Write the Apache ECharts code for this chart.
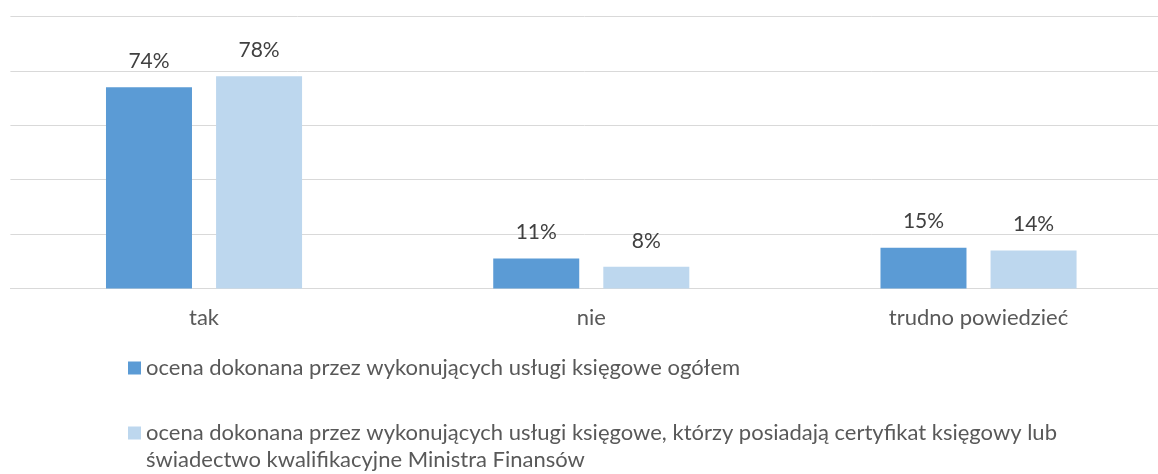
<!DOCTYPE html>
<html>
<head>
<meta charset="utf-8">
<script src="https://cdn.jsdelivr.net/npm/echarts@6/dist/echarts.min.js"></script>
<style>
  html, body { margin: 0; padding: 0; background: #fff; }
  #chart { width: 1158px; height: 474px; }
</style>
</head>
<body>
<div id="chart"></div>
<script>
var categories = ['tak', 'nie', 'trudno powiedzieć'];
var seriesNames = [
    'ocena dokonana przez wykonujących usługi księgowe ogółem',
    'ocena dokonana przez wykonujących usługi księgowe, którzy posiadają certyfikat księgowy lub świadectwo kwalifikacyjne Ministra Finansów'
];
var ogolem = [74, 11, 15];
var certyfikat = [78, 8, 14];

var FONT = 'Lato';

var labelStyle = {
    show: true,
    position: 'top',
    distance: 15.5,
    formatter: '{c}%',
    fontFamily: FONT,
    fontSize: 21,
    color: '#404040'
};

var legendText = { fontFamily: FONT, fontSize: 22, color: '#595959', lineHeight: 27 };

var chart = echarts.init(document.getElementById('chart'));

var option = {
    animation: false,
    color: ['#5B9BD5', '#BDD7EE'],
    grid: {
        left: 10.4,
        top: 16.5,
        width: 1161.75,
        bottom: 185.5,
        outerBoundsMode: 'none'
    },
    legend: [
        {
            data: [seriesNames[0]],
            left: 128,
            top: 354.5,
            padding: 0,
            itemWidth: 13,
            itemHeight: 13,
            icon: 'rect',
            textStyle: legendText
        },
        {
            data: [seriesNames[1]],
            left: 128,
            top: 392.5,
            padding: 0,
            itemWidth: 13,
            itemHeight: 13,
            icon: 'rect',
            // pusta linia nad tekstem, żeby znacznik stał przy pierwszej linii
            formatter: function (name) {
                return '\n' + name.replace(' świadectwo', '\nświadectwo');
            },
            textStyle: legendText
        }
    ],
    xAxis: {
        type: 'category',
        data: categories,
        axisTick: { show: false },
        axisLine: { lineStyle: { color: '#D9D9D9', width: 1 } },
        axisLabel: { fontFamily: FONT, fontSize: 22, color: '#595959', margin: 18.5 }
    },
    yAxis: {
        type: 'value',
        min: 0,
        max: 100,
        interval: 20,
        axisLabel: { show: false },
        axisLine: { show: false },
        axisTick: { show: false },
        splitLine: { lineStyle: { color: '#D9D9D9', width: 1 } }
    },
    series: [
        {
            name: seriesNames[0],
            type: 'bar',
            data: ogolem,
            barWidth: 86,
            barGap: '28%',
            label: labelStyle
        },
        {
            name: seriesNames[1],
            type: 'bar',
            data: certyfikat,
            barWidth: 86,
            barGap: '28%',
            label: labelStyle
        }
    ]
};

chart.setOption(option);
</script>
</body>
</html>
